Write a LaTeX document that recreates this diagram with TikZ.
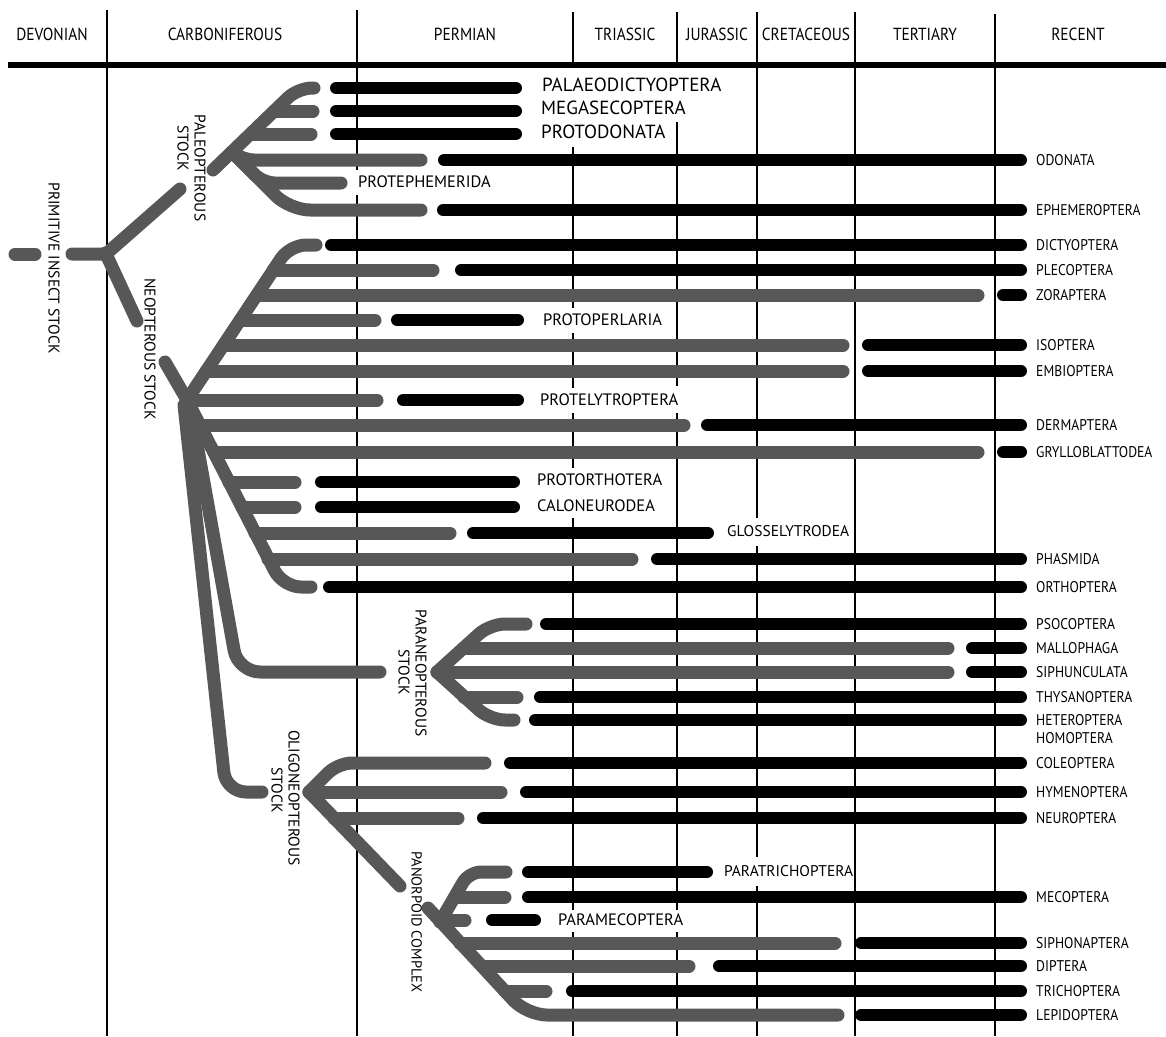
\documentclass[tikz,border=0pt]{standalone}
\usepackage{fontspec}
\setmainfont{PT Sans}
\newfontfamily\narrowf{PT Sans}[FakeStretch=0.88]
\definecolor{stip}{gray}{0.34}
\newcommand\KBar[3]{\draw[kbar] ({#1+6},#3) -- ({#2-6},#3);}
\begin{document}
\begin{tikzpicture}[x=1pt,y=-1pt,
  vline/.style={line width=2.6pt},
  gbar/.style={line width=13pt, draw=stip, line cap=round, line join=round},
  kbar/.style={line width=12pt, draw=black, line cap=round},
  lab/.style={anchor=west, font=\fontsize{16.5}{18}\selectfont, text height=11.5pt, text depth=0pt, inner sep=0pt},
  biglab/.style={anchor=west, font=\fontsize{19}{21}\selectfont, text height=13.3pt, text depth=0pt, inner sep=0pt},
  rlab/.style={anchor=west, font=\narrowf\fontsize{15.5}{17}\selectfont, text height=10.8pt, text depth=0pt, inner sep=0pt},
  hlab/.style={font=\narrowf\fontsize{17.5}{19}\selectfont, text height=12.2pt, text depth=0pt, inner sep=0pt},
  rot/.style={rotate=-90, font=\fontsize{15.5}{17}\selectfont, text height=10.8pt, text depth=0pt, inner sep=0pt}]
\useasboundingbox (0,0) rectangle (1166,1036);
% ---- period grid ----
\draw[line width=5.5pt] (8,65) -- (1166,65);
\draw[vline] (107,10) -- (107,1036);
\draw[vline] (357,10) -- (357,170) (357,195) -- (357,1036);
\draw[vline] (573,12) -- (573,67) (573,147) -- (573,308) (573,333) -- (573,388)
  (573,413) -- (573,468) (573,518) -- (573,910) (573,932) -- (573,1036);
\draw[vline] (677,12) -- (677,67) (677,122) -- (677,386) (677,413) -- (677,910) (677,932) -- (677,1036);
\draw[vline] (757,12) -- (757,518) (757,546) -- (757,857) (757,886) -- (757,1036);
\draw[vline] (855,12) -- (855,1036);
\draw[vline] (995,14) -- (995,1036);
\node[hlab] (hdev) at (52,34) {DEVONIAN};
\node[hlab] (hcarb) at (225,34) {CARBONIFEROUS};
\node[hlab] (hperm) at (465,34) {PERMIAN};
\node[hlab] (htri) at (625,34) {TRIASSIC};
\node[hlab] (hjur) at (717,34) {JURASSIC};
\node[hlab] (hcre) at (806,34) {CRETACEOUS};
\node[hlab] (hter) at (925,34) {TERTIARY};
\node[hlab] (hrec) at (1078,34) {RECENT};
% ---- primitive stock ----
\draw[gbar] (15,254) -- (35,254);
\draw[gbar,rounded corners=4pt] (72,254) -- (106,254) -- (180,189);
\draw[gbar] (106,254) -- (137,321);
\draw[gbar] (165,362) -- (187,400);
\node[rot] (prim) at (54,268) {PRIMITIVE INSECT STOCK};
\node[rot] (paleo1) at (200,168) {PALEOPTEROUS};
\node[rot] (paleo2) at (183,148) {STOCK};
\node[rot] (neo) at (150,349) {NEOPTEROUS STOCK};
% ---- paleopterous fan ----
\draw[gbar,rounded corners=14pt] (213,170) -- (298,88) -- (314,88);
\draw[gbar] (276,111) -- (313,111);
\draw[gbar] (251,134) -- (311,134);
\draw[gbar,rounded corners=8pt] (232,152) -- (246,160) -- (421,160);
\draw[gbar,rounded corners=12pt] (232,152) -- (263,183) -- (341,183);
\draw[gbar,rounded corners=20pt] (232,152) -- (290,210) -- (421,210);
\KBar{330}{522}{88} \KBar{330}{522}{111} \KBar{330}{522}{134}
\KBar{438}{1027}{160} \KBar{437}{1027}{210}
\node[biglab] (palaeo) at (542,85) {PALAEODICTYOPTERA};
\node[biglab] (megas) at (541,108) {MEGASECOPTERA};
\node[biglab] (protod) at (541,132) {PROTODONATA};
\node[lab] (proteph) at (358,182) {PROTEPHEMERIDA};
% ---- neopterous fan ----
\draw[gbar,rounded corners=16pt] (187,400) -- (290,245) -- (316,245);
\draw[gbar] (273,270) -- (433,270);
\draw[gbar] (257,295) -- (978,295);
\draw[gbar] (240,320) -- (375,320);
\draw[gbar] (224,345) -- (843,345);
\draw[gbar] (206,371) -- (843,371);
\draw[gbar] (187,400) -- (377,400);
\draw[gbar,rounded corners=18pt] (187,400) -- (283,587) -- (311,587);
\draw[gbar] (200,425) -- (684,425);
\draw[gbar] (214,452) -- (978,452);
\draw[gbar] (229,482) -- (295,482);
\draw[gbar] (242,507) -- (295,507);
\draw[gbar] (255,533) -- (450,533);
\draw[gbar] (268,559) -- (632,559);
\draw[gbar,rounded corners=22pt] (190,405) -- (238,672) -- (380,672);
\draw[gbar,rounded corners=20pt] (184,405) -- (226,792) -- (262,792);
\KBar{325}{1027}{245} \KBar{455}{1027}{270} \KBar{997}{1027}{295}
\KBar{391}{524}{320} \KBar{862}{1027}{345} \KBar{862}{1027}{371}
\KBar{397}{524}{400} \KBar{701}{1027}{425} \KBar{997}{1027}{452}
\KBar{315}{520}{482} \KBar{315}{520}{507} \KBar{467}{714}{533}
\KBar{651}{1027}{559} \KBar{323}{1027}{587}
\node[lab] (protop) at (543,320) {PROTOPERLARIA};
\node[lab] (protel) at (540,400) {PROTELYTROPTERA};
\node[lab] (protor) at (537,480) {PROTORTHOTERA};
\node[lab] (calon) at (537,506) {CALONEURODEA};
\node[lab,font=\fontsize{15.5}{17}\selectfont] (gloss) at (727,531) {GLOSSELYTRODEA};
% ---- paraneopterous ----
\draw[gbar,rounded corners=15pt] (437,672) -- (490,624) -- (526,624);
\draw[gbar] (463,648) -- (948,648);
\draw[gbar] (437,672) -- (948,672);
\draw[gbar,rounded corners=15pt] (437,672) -- (490,720) -- (514,720);
\draw[gbar] (464,697) -- (517,697);
\KBar{540}{1027}{624} \KBar{966}{1027}{648} \KBar{966}{1027}{672}
\KBar{534}{1027}{697} \KBar{529}{1027}{720}
\node[rot] (para1) at (421,673) {PARANEOPTEROUS};
\node[rot] (para2) at (404,672) {STOCK};
% ---- oligoneopterous ----
\draw[gbar,rounded corners=14pt] (309,792) -- (338,763) -- (485,763);
\draw[gbar] (309,792) -- (501,792);
\draw[gbar] (309,792) -- (400,886);
\draw[gbar] (334,818) -- (458,818);
\KBar{504}{1027}{763} \KBar{520}{1027}{792} \KBar{477}{1027}{818}
\node[rot] (oligo1) at (294,798) {OLIGONEOPTEROUS};
\node[rot] (oligo2) at (277,790) {STOCK};
% ---- panorpoid ----
\draw[gbar,rounded corners=20pt] (428,908) -- (527,1015) -- (838,1015);
\draw[gbar,rounded corners=12pt] (440,922) -- (469,872) -- (506,872);
\draw[gbar] (455,897) -- (505,897);
\draw[gbar] (446,920) -- (465,920);
\draw[gbar] (460,943) -- (835,943);
\draw[gbar] (482,966) -- (689,966);
\draw[gbar] (505,991) -- (546,991);
\KBar{522}{713}{872} \KBar{522}{1027}{897} \KBar{486}{541}{920}
\KBar{855}{1027}{943} \KBar{713}{1027}{966} \KBar{566}{1027}{991}
\KBar{855}{1027}{1015}
\node[rot,font=\fontsize{14.5}{16}\selectfont] (panor) at (417,922) {PANORPOID COMPLEX};
\node[lab,font=\fontsize{15.5}{17}\selectfont] (paratr) at (724,871) {PARATRICHOPTERA};
\node[lab] (paramec) at (558,920) {PARAMECOPTERA};
% ---- recent orders ----
\node[rlab] (odon) at (1036,160) {ODONATA};
\node[rlab] (ephem) at (1036,210) {EPHEMEROPTERA};
\node[rlab] (dict) at (1036,245) {DICTYOPTERA};
\node[rlab] (plec) at (1036,270) {PLECOPTERA};
\node[rlab] (zor) at (1036,295) {ZORAPTERA};
\node[rlab] (iso) at (1036,345) {ISOPTERA};
\node[rlab] (emb) at (1036,371) {EMBIOPTERA};
\node[rlab] (derm) at (1036,425) {DERMAPTERA};
\node[rlab] (gryl) at (1036,452) {GRYLLOBLATTODEA};
\node[rlab] (phas) at (1036,559) {PHASMIDA};
\node[rlab] (orth) at (1036,587) {ORTHOPTERA};
\node[rlab] (psoc) at (1036,624) {PSOCOPTERA};
\node[rlab] (mall) at (1036,648) {MALLOPHAGA};
\node[rlab] (siph) at (1036,672) {SIPHUNCULATA};
\node[rlab] (thys) at (1036,697) {THYSANOPTERA};
\node[rlab] (hete) at (1036,720) {HETEROPTERA};
\node[rlab] (homo) at (1036,738) {HOMOPTERA};
\node[rlab] (cole) at (1036,763) {COLEOPTERA};
\node[rlab] (hyme) at (1036,792) {HYMENOPTERA};
\node[rlab] (neur) at (1036,818) {NEUROPTERA};
\node[rlab] (meco) at (1036,897) {MECOPTERA};
\node[rlab] (sipho) at (1036,943) {SIPHONAPTERA};
\node[rlab] (dipt) at (1036,966) {DIPTERA};
\node[rlab] (tric) at (1036,991) {TRICHOPTERA};
\node[rlab] (lepi) at (1036,1015) {LEPIDOPTERA};
\end{tikzpicture}
\end{document}
